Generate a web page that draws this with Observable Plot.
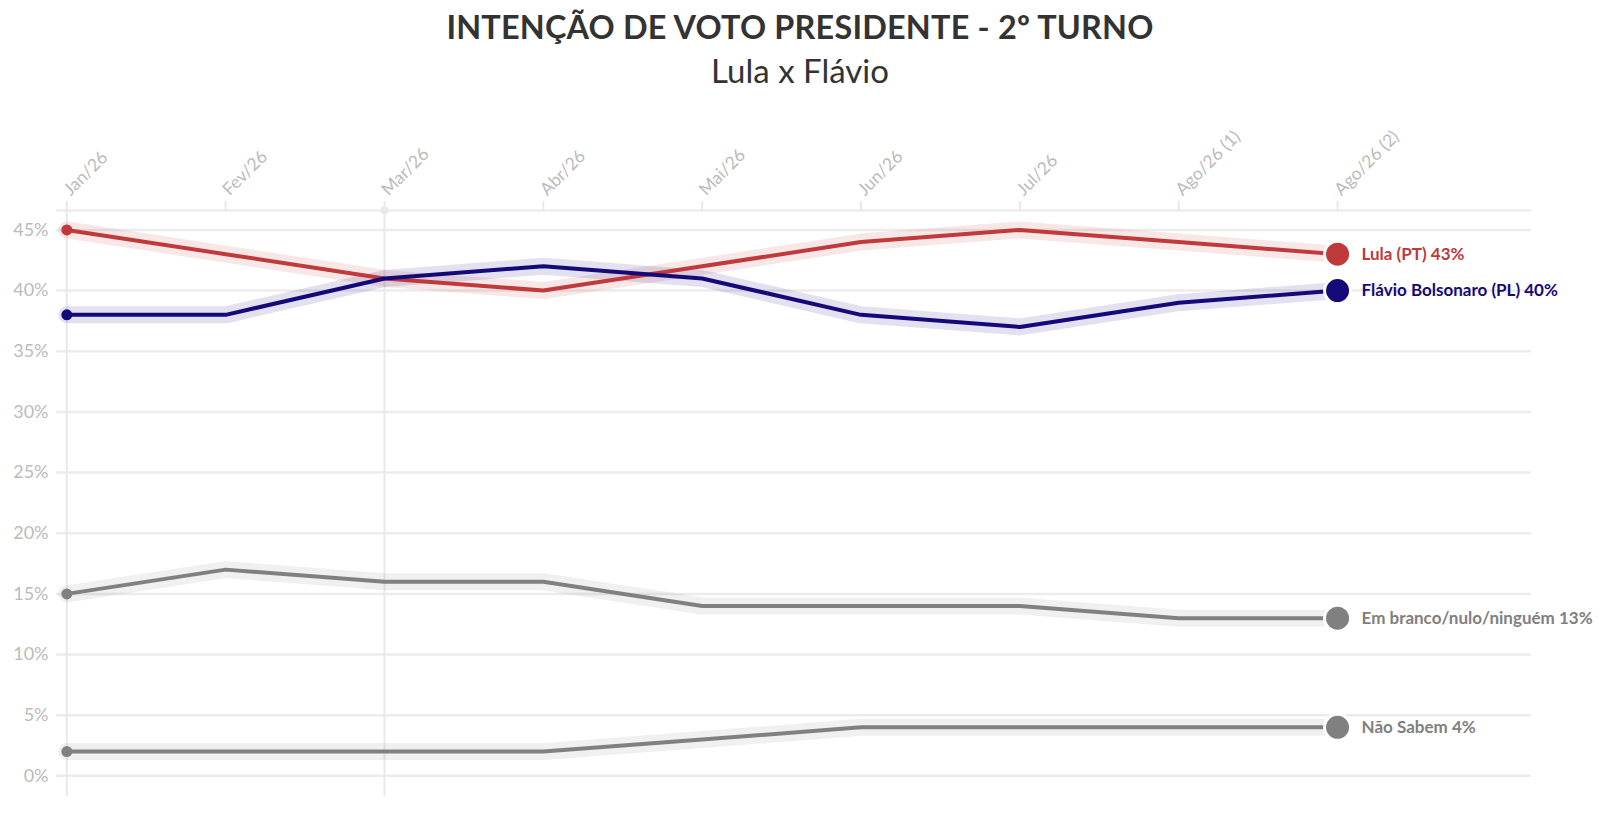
<!DOCTYPE html>
<html>
<head>
<meta charset="utf-8">
<script src="https://cdn.jsdelivr.net/npm/d3@7"></script>
<script src="https://cdn.jsdelivr.net/npm/@observablehq/plot@0.6"></script>
<style>
  html, body { margin: 0; padding: 0; background: #fff; }
  #wrap { position: relative; width: 1600px; height: 825px; overflow: hidden; font-family: Lato, "Noto Sans", sans-serif; }
  #title { position: absolute; left: 0; width: 1600px; top: 10px; text-align: center; font-weight: 700; font-size: 32.4px; line-height: 33px; color: #333; letter-spacing: 0.2px; }
  #subtitle { position: absolute; left: 0; width: 1600px; top: 54px; text-align: center; font-weight: 400; font-size: 33px; line-height: 33px; color: #333; }
  #chart { position: absolute; left: 0; top: 100px; }
</style>
</head>
<body>
<div id="wrap">
  <div id="title">INTENÇÃO DE VOTO PRESIDENTE - 2º TURNO</div>
  <div id="subtitle">Lula x Flávio</div>
  <div id="chart"></div>
</div>
<script>
// ---- data ----
const months = ["Jan/26", "Fev/26", "Mar/26", "Abr/26", "Mai/26", "Jun/26", "Jul/26", "Ago/26 (1)", "Ago/26 (2)"];
const lula = [45, 43, 41, 40, 42, 44, 45, 44, 43];
const flavio = [38, 38, 41, 42, 41, 38, 37, 39, 40];
const branco = [15, 17, 16, 16, 14, 14, 14, 13, 13];
const naoSabem = [2, 2, 2, 2, 3, 4, 4, 4, 4];
const seriesNames = ["Não Sabem", "Em branco/nulo/ninguém", "Lula (PT)", "Flávio Bolsonaro (PL)"];
const seriesValues = [naoSabem, branco, lula, flavio];
const seriesColors = ["#808080", "#808080", "#c0393b", "#15097a"];
const yTicks = [0, 5, 10, 15, 20, 25, 30, 35, 40, 45];
const markerMonth = "Mar/26";

// ---- build ----
const yDomain = [-1.7, 46.6];
const xIdx = months.map((m, i) => i);
const rows = [];
seriesNames.forEach((s, k) => {
  seriesValues[k].forEach((v, i) => rows.push({i, month: months[i], value: v, series: s, color: seriesColors[k]}));
});
const firsts = rows.filter(d => d.i === 0);
const lasts = rows.filter(d => d.i === months.length - 1);
const markerIdx = months.indexOf(markerMonth);

const chart = Plot.plot({
  width: 1600,
  height: 725,
  marginTop: 110,
  marginBottom: 29,
  marginLeft: 56,
  marginRight: 69,
  style: {fontFamily: "Lato, 'Noto Sans', sans-serif", fontSize: "17px", background: "#fff", overflow: "visible"},
  x: {type: "linear", domain: [-0.065, 9.221], label: null},
  y: {domain: yDomain, label: null},
  marks: [
    Plot.ruleY(yTicks, {stroke: "#ececec", strokeWidth: 2.5}),
    Plot.ruleY([yDomain[1]], {stroke: "#ececec", strokeWidth: 2.5}),
    Plot.ruleX([0, markerIdx], {stroke: "#e9e9e9", strokeWidth: 2}),
    Plot.dot([markerIdx], {x: d => d, y: () => yDomain[1], r: 4, fill: "#e9e9e9"}),
    Plot.axisX({anchor: "top", label: null, ticks: xIdx, tickFormat: i => months[i], tickRotate: -45, tickSize: 10, tickPadding: 8, stroke: "#e9e9e9", strokeWidth: 2, fill: "#bbb", fontSize: 17.5}),
    Plot.axisY({label: null, ticks: yTicks, tickSize: 0, tickPadding: 8, tickFormat: d => d + "%", fill: "#bbb", fontSize: 18}),
    Plot.line(rows, {x: "i", y: "value", z: "series", stroke: "color", strokeWidth: 17, strokeOpacity: 0.12, strokeLinecap: "round"}),
    Plot.line(rows, {x: "i", y: "value", z: "series", stroke: "color", strokeWidth: 4}),
    Plot.dot(firsts, {x: "i", y: "value", r: 5.5, fill: "color"}),
    Plot.dot(lasts, {x: "i", y: "value", r: 13, fill: "color", stroke: "#fff", strokeWidth: 3}),
    Plot.text(lasts, {x: "i", y: "value", text: d => `${d.series} ${d.value}%`, dx: 24, textAnchor: "start", fill: "color", fontWeight: 700, fontSize: 17})
  ]
});
document.getElementById("chart").appendChild(chart);
</script>
</body>
</html>
